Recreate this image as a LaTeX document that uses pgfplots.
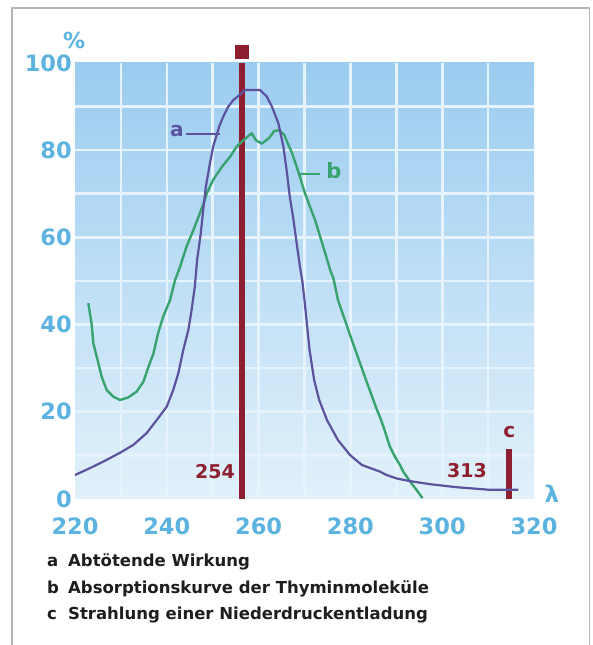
\documentclass[border=0pt]{standalone}
\usepackage{fontspec}
\setmainfont{DejaVu Sans}
\usepackage{pgfplots}
\pgfplotsset{compat=1.18}
\definecolor{tickblue}{HTML}{5DB3DF}
\definecolor{bgtop}{HTML}{9BCCF0}
\definecolor{bgbot}{HTML}{E2F1FB}
\definecolor{gridc}{HTML}{E6F3FC}
\definecolor{curvea}{HTML}{5C529E}
\definecolor{curveb}{HTML}{38A36F}
\definecolor{redl}{HTML}{8E1F30}
\definecolor{framec}{HTML}{B5B5B5}
\definecolor{txt}{HTML}{1E1E1E}
\begin{document}
\begin{tikzpicture}[x=1pt,y=1pt]
\path[use as bounding box, fill=white] (0,0) rectangle (592,645);
\draw[framec, line width=1.5pt] (12,0) -- (12,637) -- (589.5,637) -- (589.5,0);
\begin{axis}[
  at={(75pt,146pt)}, anchor=south west,
  scale only axis, width=459pt, height=436pt,
  xmin=220, xmax=320, ymin=0, ymax=100,
  axis line style={draw=none},
  major tick length=0pt,
  xtick={230,240,...,310}, xticklabels={},
  ytick={10,20,...,90}, yticklabels={},
  grid=major,
  major grid style={gridc, line width=2.6pt},
  extra x ticks={220,240,...,320},
  extra y ticks={0,20,...,100},
  extra tick style={grid=none, major tick length=0pt},
  /pgf/number format/assume math mode=true,
  ticklabel style={font=\fontsize{22.5}{22.5}\selectfont\bfseries, text=tickblue},
  xticklabel style={inner sep=0pt, anchor=north, yshift=-19pt},
  yticklabel style={inner sep=0pt, anchor=east, xshift=-3pt},
  axis background/.style={top color=bgtop, bottom color=bgbot},
  clip=false,
]
% red lines (c and 254)
\addplot[redl, line width=6pt] coordinates {(256.4,0) (256.4,100)};
\addplot[redl, only marks, mark=square*, mark size=6.5pt, mark options={draw=none, fill=redl}] coordinates {(256.4,102.6)};
\addplot[redl, line width=6pt] coordinates {(314.6,0) (314.6,11.5)};
% curve b
\addplot[curveb, line width=2.4pt, line join=round] coordinates {
(222.9,44.9) (223.6,40.3) (224.0,35.7) (225.1,31.1) (225.8,28.1) (226.9,25.0) (228.3,23.5) (229.8,22.7) (231.6,23.3) (233.4,24.6) (234.9,26.9) (236.0,30.3) (237.1,33.4) (238.1,38.0) (239.2,41.8) (240.7,45.6) (241.8,50.2) (242.9,53.3) (244.3,57.9) (245.8,61.7) (246.9,64.7) (248.3,68.6) (248.7,70.1) (250.1,73.2) (252.0,76.2) (253.8,78.5) (255.2,80.8) (256.7,82.3) (258.5,83.9) (259.4,82.3) (260.7,81.5) (262.3,82.8) (263.4,84.4) (264.5,84.6) (265.6,83.5) (266.3,81.7) (267.3,79.3) (268.3,76.2) (269.0,73.9) (270.1,70.1) (271.2,67.0) (272.3,64.0) (273.4,60.2) (274.5,56.4) (275.6,52.5) (276.3,50.6) (277.3,45.6) (280.3,36.5) (283.4,27.3) (285.8,20.4) (286.4,18.9) (287.2,16.6) (287.9,14.3) (288.6,12.0) (289.7,9.7) (290.8,7.8) (291.5,6.3) (293.0,4.0) (294.4,2.1) (295.7,0.2)
};
% curve a
\addplot[curvea, line width=2.2pt, line join=round] coordinates {
(220,5.5) (223.3,7.1) (226.2,8.6) (229.8,10.6) (232.7,12.4) (235.6,15.1) (237.8,18.1) (240.0,21.2) (241.4,25.0) (242.5,28.8) (243.6,34.2) (244.7,38.8) (245.4,43.3) (246.1,48.7) (246.6,54.8) (247.4,60.9) (248.0,67.0) (248.5,71.6) (249.4,77.0) (250.1,80.8) (251.4,85.4) (252.3,87.7) (253.4,90.0) (254.5,91.5) (255.9,92.7) (257.0,93.8) (260.3,93.8) (261.8,92.3) (262.9,90.0) (264.3,86.2) (265.4,80.8) (266.1,75.5) (266.8,69.3) (267.6,64.0) (268.3,58.6) (269.0,53.3) (269.5,50.2) (270.0,45.6) (271.1,34.2) (272.1,27.3) (273.2,22.7) (274.9,18.1) (277.3,13.5) (279.9,10.1) (282.5,7.8) (286.4,6.3) (287.9,5.5) (290.1,4.7) (293.0,4.1) (297.3,3.4) (303.2,2.7) (310.4,2.1) (316.6,2.1)
};
% annotations
\node[text=redl, font=\fontsize{19}{19}\selectfont\bfseries] at (axis cs:250.5,6.4) {254};
\node[text=redl, font=\fontsize{19}{19}\selectfont\bfseries] at (axis cs:305.4,6.6) {313};
\node[text=redl, font=\fontsize{20}{20}\selectfont\bfseries] at (axis cs:314.6,15.3) {c};
\node[text=curvea, font=\fontsize{20}{20}\selectfont\bfseries] at (axis cs:242.2,84.4) {a};
\draw[curvea, line width=2.2pt] (axis cs:244.2,83.8) -- (axis cs:251.6,83.8);
\node[text=curveb, font=\fontsize{21}{21}\selectfont\bfseries] at (axis cs:276.4,75.2) {b};
\draw[curveb, line width=2.2pt] (axis cs:269.0,74.5) -- (axis cs:273.4,74.5);
\node[text=tickblue, font=\fontsize{22}{22}\selectfont\bfseries] at (axis cs:219.8,105.2) {\%};
\node[text=tickblue, font=\fontsize{23}{23}\selectfont\bfseries] at (axis cs:323.9,1.2) {λ};
\end{axis}
\begin{scope}[every node/.style={anchor=base west, inner sep=0pt, text=txt, font=\fontsize{16.5}{16.5}\selectfont\bfseries}]
\node at (47,78) {a};
\node at (68,78) {Abtötende Wirkung};
\node at (47,51) {b};
\node at (68,51) {Absorptionskurve der Thyminmoleküle};
\node at (47,25) {c};
\node at (68,25) {Strahlung einer Niederdruckentladung};
\end{scope}
\end{tikzpicture}
\end{document}
